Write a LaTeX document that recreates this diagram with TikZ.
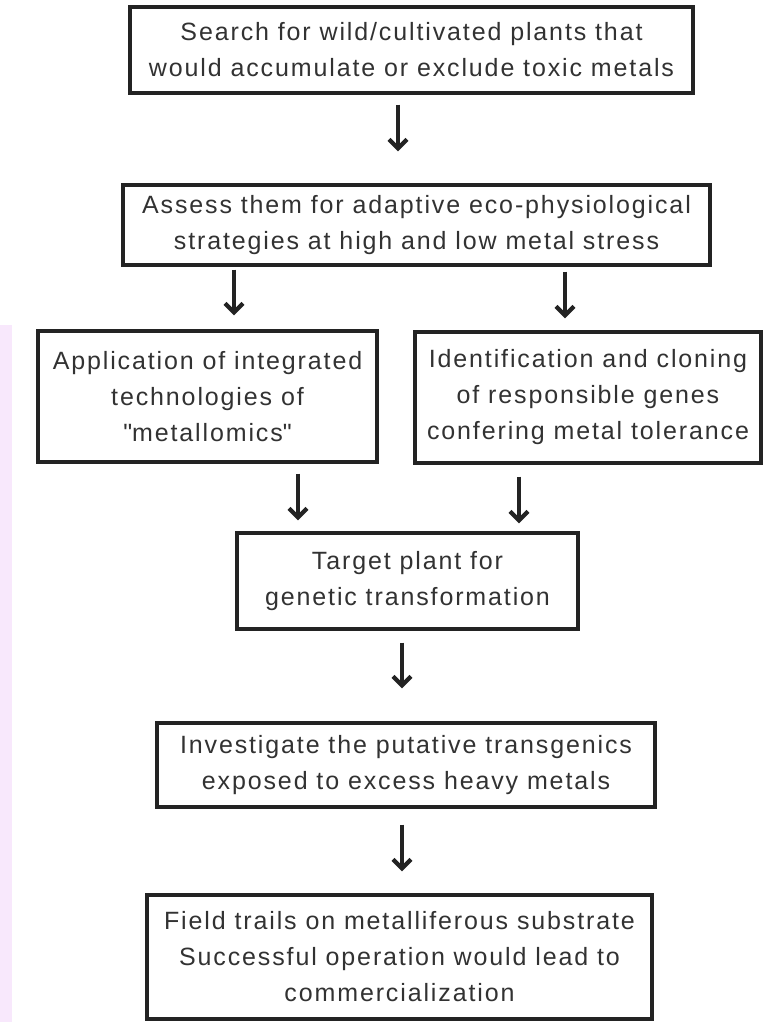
\documentclass[tikz,border=0pt]{standalone}
\usepackage{fontspec}
\setmainfont{Liberation Sans}[LetterSpace=7.5]
\usetikzlibrary{arrows.meta}
\definecolor{boxline}{RGB}{35,35,35}
\definecolor{boxtext}{RGB}{50,50,50}
\definecolor{edgetint}{RGB}{248,232,252}

\tikzset{
  stepbox/.style={draw=boxline,line width=3.4pt,fill=white,align=center,
    text=boxtext,inner sep=0pt,
    font=\fontsize{25}{36}\selectfont},
  flow/.style={draw=boxline,line width=3.2pt,
    -{Straight Barb[length=9pt,width=18pt,line width=4.2pt]}}
}

\begin{document}
\begin{tikzpicture}[x=1pt,y=1pt]
  \useasboundingbox (0,0) rectangle (763,-1022);
  % faint tint along the left edge
  \fill[edgetint] (0,-325) rectangle (12,-1022);

  \node[stepbox,minimum width=563pt,minimum height=86pt] (search) at (411.5,-50)
    {Search for wild/cultivated plants that\\would accumulate or exclude toxic metals};
  \node[stepbox,minimum width=587pt,minimum height=80pt] (assess) at (416.5,-225)
    {Assess them for adaptive eco-physiological\\strategies at high and low metal stress};
  \node[stepbox,minimum width=339pt,minimum height=131pt] (omics) at (207.5,-396.5)
    {Application of integrated\\technologies of\\\textquotedbl metallomics\textquotedbl};
  \node[stepbox,minimum width=346pt,minimum height=131pt] (genes) at (588,-397.5)
    {Identification and cloning\\of responsible genes\\confering metal tolerance};
  \node[stepbox,minimum width=341pt,minimum height=96pt] (target) at (407.5,-581)
    {Target plant for\\genetic transformation};
  \node[stepbox,minimum width=498pt,minimum height=84pt] (invest) at (406,-765)
    {Investigate the putative transgenics\\exposed to excess heavy metals};
  \node[stepbox,minimum width=505pt,minimum height=124pt] (field) at (399.5,-957)
    {Field trails on metalliferous substrate\\Successful operation would lead to\\commercialization};

  % arrow columns
  \coordinate (c1) at (398,0);
  \coordinate (c2) at (234,0);
  \coordinate (c3) at (565,0);
  \coordinate (c4) at (298,0);
  \coordinate (c5) at (519,0);
  \coordinate (c6) at (402,0);

  \draw[flow,shorten <=10pt,shorten >=32pt] (search.south -| c1) -- (assess.north -| c1);
  \draw[flow,shorten <=3pt,shorten >=14pt] (assess.south -| c2) -- (omics.north -| c2);
  \draw[flow,shorten <=5pt,shorten >=12pt] (assess.south -| c3) -- (genes.north -| c3);
  \draw[flow,shorten <=10pt,shorten >=11pt] (omics.south -| c4) -- (target.north -| c4);
  \draw[flow,shorten <=12pt,shorten >=8pt] (genes.south -| c5) -- (target.north -| c5);
  \draw[flow,shorten <=12pt,shorten >=33pt] (target.south -| c6) -- (invest.north -| c6);
  \draw[flow,shorten <=16pt,shorten >=22pt] (invest.south -| c6) -- (field.north -| c6);
\end{tikzpicture}
\end{document}
